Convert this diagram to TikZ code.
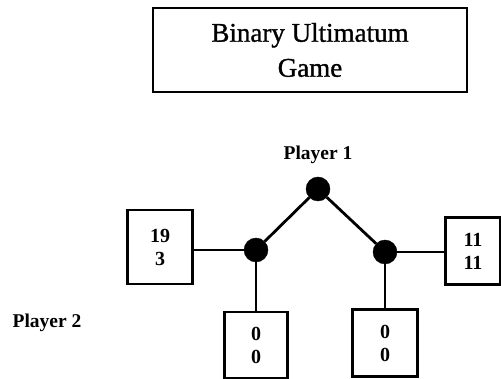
\documentclass[tikz,border=0pt]{standalone}
\usepackage{fontspec}
\setmainfont{Liberation Serif}
\newfontfamily\heavy{Liberation Serif}[FakeBold=1.2]
\begin{document}
\begin{tikzpicture}[x=1pt,y=-1pt,
  pay/.style={draw,line width=2.6pt,minimum width=#1,inner sep=0pt,align=center,font=\fontsize{20}{23}\selectfont\bfseries},
  dot/.style={circle,fill=black,draw=black,inner sep=0pt,minimum size=24pt},
  edge/.style={line width=2.8pt},
  lab/.style={font=\fontsize{19.5}{22}\selectfont\bfseries}]
\useasboundingbox (0,0) rectangle (501,379);
\node[draw,line width=2.8pt,minimum width=314pt,minimum height=84pt,align=center,font=\fontsize{27}{35}\selectfont\heavy] (title) at (310,50) {Binary Ultimatum\\Game};
\node[lab] (p1) at (318,155) {Player 1};
\node[lab] (p2) at (47,323) {Player 2};
\node[dot] (n0) at (318,189) {};
\node[dot] (nl) at (256,250) {};
\node[dot] (nr) at (385,252) {};
\node[pay=65pt,minimum height=74pt] (bl) at (160,247) {19\\3};
\node[pay=63pt,minimum height=66pt] (blb) at (256,345) {0\\0};
\node[pay=65pt,minimum height=67pt] (brb) at (385,343) {0\\0};
\node[pay=55pt,minimum height=67pt] (br) at (473,251) {11\\11};
\draw[edge] (n0) -- (nl);
\draw[edge] (n0) -- (nr);
\draw[edge] (nl) -- (bl.east |- nl);
\draw[edge] (nl) -- (blb);
\draw[edge] (nr) -- (br.west |- nr);
\draw[edge] (nr) -- (brb);
\end{tikzpicture}
\end{document}
